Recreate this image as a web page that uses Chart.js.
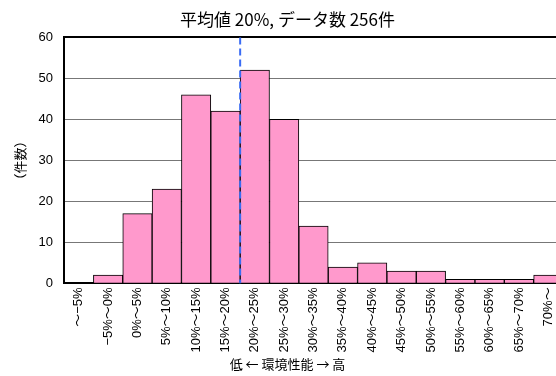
<!DOCTYPE html>
<html>
<head>
<meta charset="utf-8">
<script src="https://cdn.jsdelivr.net/npm/chart.js@4/dist/chart.umd.min.js"></script>
<style>
  html, body { margin: 0; padding: 0; background: #fff; overflow: hidden; }
  #wrap { width: 592px; height: 376px; }
</style>
</head>
<body>
<div id="wrap"><canvas id="histChart" width="592" height="376"></canvas></div>
<script>
// データ
const labels = ['～−5%', '−5%～0%', '0%～5%', '5%～10%', '10%～15%', '15%～20%', '20%～25%', '25%～30%',
  '30%～35%', '35%～40%', '40%～45%', '45%～50%', '50%～55%', '55%～60%', '60%～65%', '65%～70%', '70%～'];
const counts = [0, 2, 17, 23, 46, 42, 52, 40, 14, 4, 5, 3, 3, 1, 1, 1, 2];
const yTicks = [0, 10, 20, 30, 40, 50, 60];
const titleText = '平均値 20%, データ数 256件';
const xTitle = '低 ← 環境性能 → 高';
const yTitle = '（件数）';
// 平均値の位置 (この区間の境目に線を引く)
const meanLeft = '15%～20%';
const meanRight = '20%～25%';

const FONT = '"Liberation Sans", Arial, "Noto Sans CJK JP", sans-serif';
const JP = '"Noto Sans CJK JP", "Liberation Sans", sans-serif';

// 平均値の破線
const meanLinePlugin = {
  id: 'meanLine',
  afterDatasetsDraw(chart) {
    const x = chart.scales.x;
    const area = chart.chartArea;
    const px = (x.getPixelForValue(labels.indexOf(meanLeft)) + x.getPixelForValue(labels.indexOf(meanRight))) / 2;
    const ctx = chart.ctx;
    ctx.save();
    ctx.strokeStyle = '#3a6cf4';
    ctx.lineWidth = 2;
    ctx.setLineDash([7, 4]);
    ctx.beginPath();
    ctx.moveTo(px, area.top);
    ctx.lineTo(px, area.bottom);
    ctx.stroke();
    ctx.restore();
  }
};

new Chart(document.getElementById('histChart'), {
  type: 'bar',
  data: {
    labels: labels,
    datasets: [{
      data: counts,
      backgroundColor: '#ff99cc',
      borderColor: '#000',
      borderWidth: 1,
      categoryPercentage: 1,
      barPercentage: 1
    }]
  },
  options: {
    responsive: false,
    animation: false,
    layout: { padding: { left: 12, right: 29, top: 2, bottom: 4 } },
    plugins: {
      legend: { display: false },
      tooltip: { enabled: false },
      title: {
        display: true, text: titleText, color: '#000',
        font: { family: JP, size: 17, weight: 'normal' },
        padding: { top: 7, bottom: 8 }
      },
      subtitle: {
        display: true, text: xTitle, position: 'bottom', color: '#000',
        font: { family: JP, size: 13, weight: 'normal' },
        padding: { top: 0, bottom: 0 }
      }
    },
    scales: {
      x: {
        grid: { display: false, drawTicks: false },
        border: { display: true, color: '#000', width: 2 },
        ticks: {
          color: '#000', autoSkip: false, maxRotation: 90, minRotation: 90, padding: 4,
          font: { family: FONT, size: 13 }
        }
      },
      y: {
        min: 0, max: 60,
        afterBuildTicks: (axis) => { axis.ticks = yTicks.map(v => ({ value: v })); },
        grid: {
          drawTicks: false,
          color: (c) => (c.tick && c.tick.value === 60) ? '#000' : '#777',
          lineWidth: (c) => (c.tick && c.tick.value === 60) ? 2 : 1
        },
        border: { display: true, color: '#000', width: 2 },
        ticks: { color: '#000', padding: 11, font: { family: FONT, size: 13 } },
        title: {
          display: true, text: yTitle, color: '#000',
          font: { family: JP, size: 13 }, padding: { top: 0, bottom: 0 }
        }
      }
    }
  },
  plugins: [meanLinePlugin]
});
</script>
</body>
</html>
